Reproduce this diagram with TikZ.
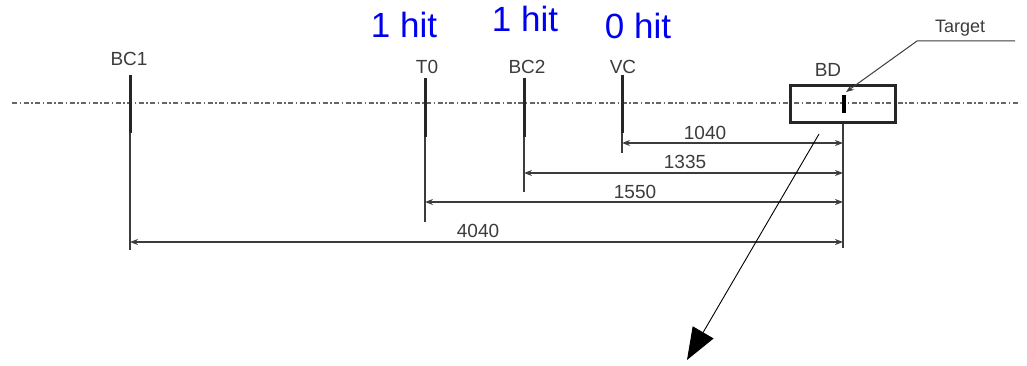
\documentclass[tikz,border=0pt]{standalone}
\usepackage{fontspec}
\setmainfont{Liberation Sans}
\usetikzlibrary{arrows.meta}
\definecolor{dimgray}{RGB}{60,60,60}
\definecolor{hitblue}{RGB}{0,0,240}
\begin{document}
\begin{tikzpicture}[x=1pt,y=-1pt,
  lbl/.style={anchor=base,inner sep=0pt,font=\fontsize{19}{19}\selectfont,text=dimgray},
  hit/.style={anchor=base,inner sep=0pt,font=\fontsize{35}{35}\selectfont,text=hitblue},
  dimnum/.style={anchor=base,inner sep=0pt,font=\fontsize{19}{19}\selectfont,text=dimgray},
  thickpart/.style={line width=3pt,draw=black!85},
  thinpart/.style={line width=1.4pt,draw=dimgray},
  dimarrow/.style={line width=1.4pt,draw=dimgray,{Stealth[length=8pt,width=6pt]}-{Stealth[length=8pt,width=6pt]}},
  axis/.style={line width=1.3pt,draw=black!60,dash pattern=on 5pt off 2.5pt on 1.5pt off 2.5pt},
  bigarrow/.style={line width=0.9pt,draw=black,-{Triangle[length=32pt,width=24pt]}}
]
\useasboundingbox (0,0) rectangle (1027,366);

% centre line
\coordinate (axL) at (12,103);
\coordinate (axR) at (1020,103);
\draw[axis] (axL) -- (axR);

% detector positions
\coordinate (bc1t) at (130,75);  \coordinate (bc1m) at (130,133); \coordinate (bc1b) at (130,250);
\coordinate (t0t)  at (425,78);  \coordinate (t0m)  at (425,137); \coordinate (t0b)  at (425,222);
\coordinate (bc2t) at (524,78);  \coordinate (bc2m) at (524,137); \coordinate (bc2b) at (524,192);
\coordinate (vct)  at (622,75);  \coordinate (vcm)  at (622,133); \coordinate (vcb)  at (622,153);
\coordinate (reft) at (843,124); \coordinate (refb) at (843,248);

\draw[thickpart] (bc1t) -- (bc1m);
\draw[thinpart]  (bc1m) -- (bc1b);
\draw[thickpart] (t0t) -- (t0m);
\draw[thinpart]  (t0m) -- (t0b);
\draw[thickpart] (bc2t) -- (bc2m);
\draw[thinpart]  (bc2m) -- (bc2b);
\draw[thickpart] (vct) -- (vcm);
\draw[thinpart]  (vcm) -- (vcb);
\draw[thinpart]  (reft) -- (refb);

% BD box and target
\node[draw=black!85,line width=3pt,minimum width=105pt,minimum height=37pt,inner sep=0pt] (bd) at (843,104) {};
\coordinate (tgt1) at (844,95);
\coordinate (tgt2) at (844,113);
\draw[line width=3.5pt,draw=black] (tgt1) -- (tgt2);

% labels
\node[lbl] (lbc1) at (129,66) {BC1};
\node[lbl] (lt0)  at (427,74) {T0};
\node[lbl] (lbc2) at (527,74) {BC2};
\node[lbl] (lvc)  at (623,74) {VC};
\node[lbl] (lbd)  at (828,77) {BD};
\node[lbl,font=\fontsize{18}{18}\selectfont] (ltarget) at (960,33) {Target};

% hits
\node[hit] (h1) at (404,38) {1 hit};
\node[hit] (h2) at (525,32) {1 hit};
\node[hit] (h3) at (638,39) {0 hit};

% target leader
\coordinate (ldR) at (1015,41);
\coordinate (ldK) at (917,41);
\coordinate (ldT) at (846,92);
\draw[line width=1pt,draw=dimgray,-{Stealth[length=8pt,width=6pt]}] (ldR) -- (ldK) -- (ldT);

% dimension lines
\coordinate (d1a) at (622,143); \coordinate (d1b) at (843,143);
\coordinate (d2a) at (524,173); \coordinate (d2b) at (843,173);
\coordinate (d3a) at (425,202); \coordinate (d3b) at (843,202);
\coordinate (d4a) at (130,242); \coordinate (d4b) at (843,242);
\draw[dimarrow] (d1a) -- (d1b);
\draw[dimarrow] (d2a) -- (d2b);
\draw[dimarrow] (d3a) -- (d3b);
\draw[dimarrow] (d4a) -- (d4b);
\node[dimnum] (n1040) at (705,140) {1040};
\node[dimnum] (n1335) at (685,169) {1335};
\node[dimnum] (n1550) at (635,198) {1550};
\node[dimnum] (n4040) at (478,237) {4040};

% big arrow
\coordinate (baS) at (819,134);
\coordinate (baE) at (687,360);
\draw[bigarrow] (baS) -- (baE);
\end{tikzpicture}
\end{document}
